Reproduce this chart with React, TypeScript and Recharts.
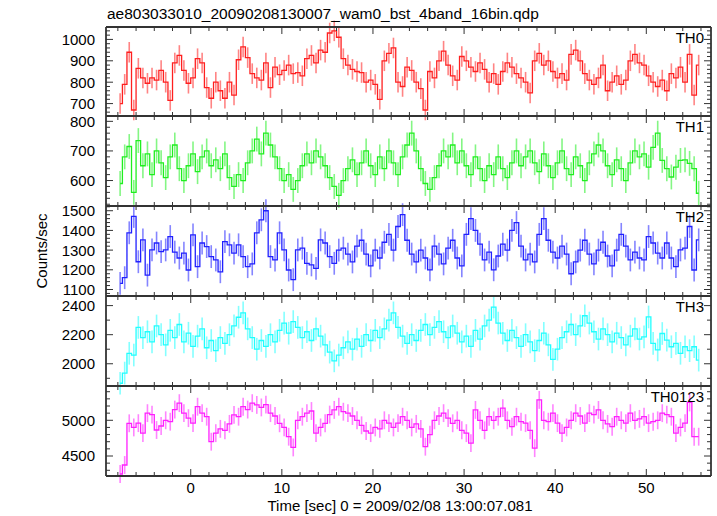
import React from 'react';
import { ComposedChart, Line, ErrorBar, XAxis, YAxis } from 'recharts';

// bins are 0.5 s wide, first bin centred at -7.75 s
const binStart = -7.75;
const binWidth = 0.5;

const th0 = [
  700, 790, 940, 670, 865, 820, 795, 820, 810, 855,
  800, 715, 890, 925, 855, 795, 820, 910, 890, 775,
  725, 800, 760, 725, 800, 740, 905, 965, 915, 840,
  820, 810, 890, 775, 870, 835, 855, 880, 840, 845,
  830, 910, 925, 890, 950, 940, 1030, 1040, 1010, 910,
  880, 860, 850, 845, 800, 810, 790, 720, 900, 935,
  960, 800, 780, 870, 855, 800, 770, 670, 850, 820,
  900, 945, 880, 830, 810, 920, 900, 870, 850, 890,
  860, 800, 840, 790, 850, 890, 870, 840, 820, 800,
  750, 900, 935, 880, 900, 850, 820, 840, 810, 930,
  950, 900, 840, 810, 790, 820, 880, 760, 800, 830,
  790, 810, 900, 930, 890, 880, 830, 800, 780, 810,
  760, 840, 820, 870, 800, 930, 740, 880,
];

const th1 = [
  590, 680, 715, 560, 735, 650, 690, 620, 700, 660,
  610, 680, 720, 640, 600, 650, 690, 630, 680, 700,
  650, 670, 640, 690, 610, 580, 620, 600, 660, 700,
  740, 690, 760, 720, 680, 640, 600, 620, 570, 600,
  650, 690, 660, 700, 680, 650, 610, 580, 550, 600,
  640, 670, 620, 660, 700, 650, 620, 680, 640, 700,
  660, 620, 680, 720, 760, 700, 640, 590, 570, 610,
  650, 700, 680, 720, 660, 700, 650, 620, 680, 640,
  600, 650, 620, 680, 640, 610, 660, 700, 650, 680,
  700, 660, 630, 690, 650, 610, 660, 700, 640, 620,
  680, 650, 600, 660, 690, 720, 700, 650, 620, 670,
  640, 600, 660, 700, 680, 690, 645, 712, 760, 668,
  640, 612, 645, 668, 670, 658, 640, 557,
];

const th2 = [
  1131, 1160, 1388, 1471, 1241, 1352, 1173, 1301, 1336, 1292,
  1301, 1369, 1290, 1260, 1285, 1199, 1377, 1216, 1336, 1318,
  1267, 1250, 1190, 1343, 1327, 1285, 1327, 1267, 1216, 1230,
  1388, 1454, 1500, 1267, 1250, 1388, 1301, 1199, 1150, 1301,
  1310, 1233, 1225, 1207, 1352, 1336, 1267, 1233, 1300, 1310,
  1280, 1240, 1320, 1350, 1280, 1220, 1300, 1260, 1340, 1380,
  1300, 1420, 1480, 1350, 1280, 1240, 1300, 1260, 1200, 1320,
  1280, 1230, 1310, 1350, 1260, 1220, 1380, 1460, 1400, 1330,
  1250, 1290, 1200, 1270, 1330, 1300, 1400, 1440, 1320, 1250,
  1280, 1240, 1380, 1460, 1350, 1290, 1260, 1320, 1280, 1180,
  1240, 1300, 1350, 1280, 1230, 1300, 1340, 1270, 1220, 1300,
  1380, 1320, 1250, 1290, 1260, 1250, 1369, 1336, 1285, 1260,
  1336, 1260, 1216, 1301, 1310, 1420, 1199, 1352,
];

const th3 = [
  1866, 1936, 2072, 2060, 2250, 2180, 2220, 2150, 2260, 2200,
  2130, 2230, 2180, 2270, 2150, 2210, 2120, 2190, 2240, 2110,
  2160, 2090, 2180, 2140, 2200, 2260, 2320, 2350, 2240, 2180,
  2100, 2160, 2120, 2200, 2150, 2230, 2280, 2210, 2290, 2250,
  2180, 2220, 2160, 2240, 2190, 2130, 2080, 2020, 2060, 2110,
  2150, 2100, 2170, 2120, 2200, 2160, 2230, 2180, 2240, 2300,
  2350, 2250, 2190, 2140, 2200, 2160, 2230, 2270, 2200, 2250,
  2290, 2220, 2180, 2260, 2210, 2150, 2190, 2120, 2230, 2170,
  2260, 2300, 2390, 2280, 2210, 2160, 2230, 2180, 2120, 2200,
  2150, 2090, 2160, 2210, 2130, 2030, 2100, 2180, 2220, 2270,
  2200, 2260, 2330, 2280, 2220, 2170, 2240, 2200, 2150, 2210,
  2180, 2130, 2190, 2240, 2170, 2185, 2322, 2140, 2095, 2208,
  2162, 2117, 2140, 2072, 2117, 2090, 2117, 2025,
];

const th0123 = [
  4248, 4374, 4958, 4900, 4960, 4820, 5100, 5080, 4864, 4920,
  5000, 4980, 5150, 5240, 5100, 5030, 4960, 5190, 5100, 5050,
  4700, 4820, 4880, 4860, 4950, 5075, 5050, 5190, 5150, 5240,
  5215, 5180, 5220, 5100, 5060, 4958, 4900, 4770, 4620, 5000,
  5050, 5100, 5130, 4820, 4900, 4958, 5080, 5145, 5190, 5120,
  5100, 5060, 5000, 4930, 4850, 4820, 4900, 4880, 5000, 4960,
  4900, 4960, 5050, 5000, 4900, 4950, 4880, 4630, 4800, 5000,
  5060, 5100, 5030, 4958, 5000, 4860, 4820, 4680, 5145, 5000,
  4860, 5050, 5000, 5050, 5170, 5000, 4910, 5050, 4980, 4960,
  4860, 4610, 5285, 5000, 4980, 5100, 4960, 4820, 4900, 5000,
  5100, 5060, 4960, 5100, 5080, 5145, 5000, 4950, 4910, 5050,
  5000, 4960, 5100, 5000, 5020, 5050, 4960, 4980, 5000, 5100,
  5080, 5050, 4820, 4900, 4960, 5250, 4770, 4770,
];

const series = [th0, th1, th2, th3, th0123];
const panelNames = ['TH0', 'TH1', 'TH2', 'TH3', 'TH0123'];
const panelColors = ['#ff1f1f', '#1fef1f', '#2020ff', '#1fffff', '#ff1fff'];
const panelErrors = [48, 42, 58, 78, 125];
const yDomains = [[642, 1058], [514, 818], [1067, 1524], [1847, 2466], [4220, 5480]];
const yMajorTicks = [
  [700, 800, 900, 1000],
  [600, 700, 800],
  [1100, 1200, 1300, 1400, 1500],
  [2000, 2200, 2400],
  [4500, 5000],
];
const yMinorStep = [20, 20, 20, 100, 100];
const xDomain = [-9.3, 57.1];
const xTicks = [-8, -6, -4, -2, 0, 2, 4, 6, 8, 10, 12, 14, 16, 18, 20, 22, 24, 26, 28, 30,
  32, 34, 36, 38, 40, 42, 44, 46, 48, 50, 52, 54, 56];
const panelEdges = [27, 116, 206, 296, 386, 476];

const FONT = '"Liberation Sans", Arial, Helvetica, sans-serif';
const AXIS = '#333';

const XTick = (props: any) => {
  const { x, y, payload, side, showLabel } = props;
  const major = payload.value % 10 === 0;
  const len = major ? 7 : 4;
  const dir = side === 'bottom' ? -1 : 1;
  return (
    <g>
      <line x1={x} y1={y} x2={x} y2={y + dir * len} stroke={AXIS} strokeWidth={1} />
      {showLabel && major && (
        <text x={x} y={y + 17} textAnchor="middle" fontSize={15} fontFamily={FONT} fill="#000">
          {payload.value}
        </text>
      )}
    </g>
  );
};

const YTick = (props: any) => {
  const { x, y, payload, side, majors } = props;
  const major = majors.includes(payload.value);
  const len = major ? 7 : 4;
  const dir = side === 'left' ? 1 : -1;
  return (
    <g>
      <line x1={x} y1={y} x2={x + dir * len} y2={y} stroke={AXIS} strokeWidth={1} />
      {side === 'left' && major && (
        <text x={x - 11} y={y} dy="0.36em" textAnchor="end" fontSize={15} fontFamily={FONT} fill="#000">
          {payload.value}
        </text>
      )}
    </g>
  );
};

const Panel = ({ index }: { index: number }) => {
  const top = panelEdges[index];
  const h = panelEdges[index + 1] - top;
  const last = index === series.length - 1;
  const pad = 12;
  const bottomPad = last ? 40 : pad;
  const [lo, hi] = yDomains[index];
  const step = yMinorStep[index];
  const yTicks: number[] = [];
  for (let v = Math.ceil(lo / step) * step; v < hi; v += step) yTicks.push(v);
  const data = series[index].map((v, i) => ({ t: binStart + i * binWidth, v, e: panelErrors[index] }));
  const color = panelColors[index];
  const axisLine = { stroke: AXIS, strokeWidth: 1.8 };

  return (
    <div style={{ position: 'absolute', left: 0, top: top - pad }}>
      <ComposedChart width={717} height={h + pad + bottomPad} data={data}
        margin={{ top: pad - 1, right: 0, bottom: bottomPad - 1, left: 0 }}>
        <XAxis xAxisId="b" type="number" dataKey="t" domain={xDomain} allowDataOverflow ticks={xTicks}
          interval={0} height={1} tickSize={0} tickMargin={0} tickLine={false} axisLine={axisLine}
          tick={(p: any) => <XTick {...p} side="bottom" showLabel={last} />} />
        <XAxis xAxisId="t" orientation="top" type="number" dataKey="t" domain={xDomain} allowDataOverflow
          ticks={xTicks} interval={0} height={1} tickSize={0} tickMargin={0} tickLine={false} axisLine={axisLine}
          tick={(p: any) => <XTick {...p} side="top" showLabel={false} />} />
        <YAxis yAxisId="l" type="number" domain={yDomains[index]} allowDataOverflow ticks={yTicks} interval={0}
          width={106} tickSize={0} tickMargin={0} tickLine={false} axisLine={axisLine}
          tick={(p: any) => <YTick {...p} side="left" majors={yMajorTicks[index]} />} />
        <YAxis yAxisId="r" orientation="right" type="number" domain={yDomains[index]} allowDataOverflow
          ticks={yTicks} interval={0} width={6} tickSize={0} tickMargin={0} tickLine={false} axisLine={axisLine}
          tick={(p: any) => <YTick {...p} side="right" majors={yMajorTicks[index]} />} />
        <Line xAxisId="b" yAxisId="l" type="step" dataKey="v" stroke={color} strokeWidth={1.3}
          dot={false} activeDot={false} isAnimationActive={false}>
          <ErrorBar dataKey="e" direction="y" width={0} stroke={color} strokeWidth={1.6}
            strokeOpacity={0.55} isAnimationActive={false} />
        </Line>
      </ComposedChart>
    </div>
  );
};

export default function App() {
  return (
    <div style={{ position: 'absolute', left: 0, top: 0, width: 717, height: 516, background: '#fff' }}>
      {series.map((_, i) => <Panel key={panelNames[i]} index={i} />)}
      <svg width={717} height={516} style={{ position: 'absolute', left: 0, top: 0, pointerEvents: 'none' }}>
        <text x={107} y={19} fontSize={15.5} fontFamily={FONT} fill="#000">
          ae803033010_20090208130007_wam0_bst_4band_16bin.qdp
        </text>
        {panelNames.map((name, i) => (
          <text key={name} x={704} y={panelEdges[i] + 16} textAnchor="end" fontSize={15} fontFamily={FONT} fill="#000">
            {name}
          </text>
        ))}
        <text x={400} y={511} textAnchor="middle" fontSize={15} fontFamily={FONT} fill="#000">
          Time [sec] 0 = 2009/02/08 13:00:07.081
        </text>
        <text transform="translate(47,251) rotate(-90)" textAnchor="middle" fontSize={15} fontFamily={FONT} fill="#000">
          Counts/sec
        </text>
      </svg>
    </div>
  );
}
